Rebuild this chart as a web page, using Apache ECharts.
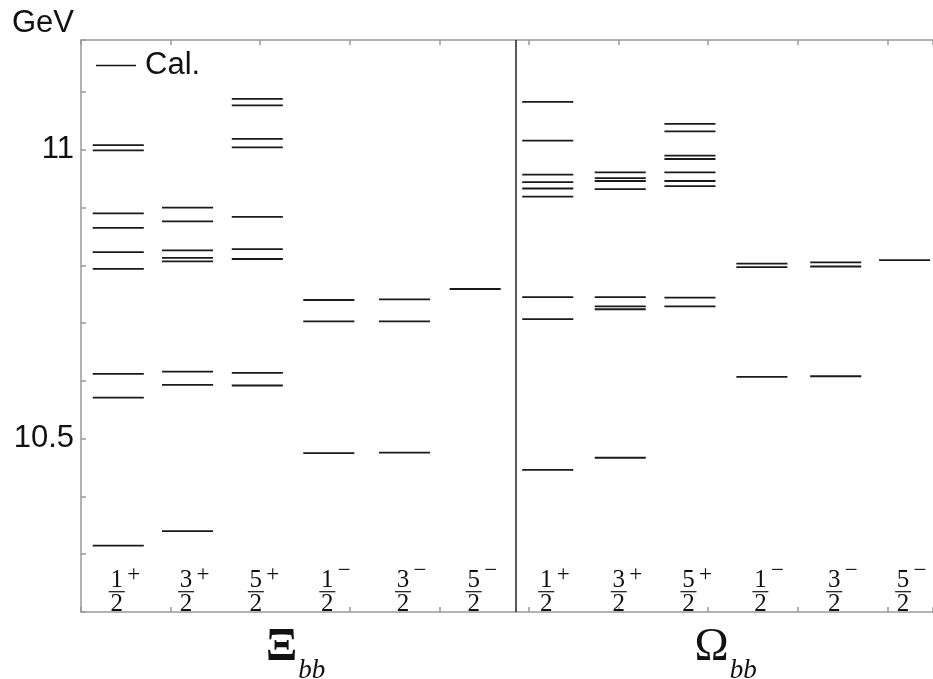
<!DOCTYPE html>
<html><head><meta charset="utf-8">
<script src="https://cdn.jsdelivr.net/npm/echarts@6/dist/echarts.min.js"></script>
<style>html,body{margin:0;padding:0;background:#fff}#c{width:933px;height:679px}</style>
</head><body><div id="c"></div>
<script>
// ---- data ----
const groups = ['Ξ', 'Ω'];
const groupSub = 'bb';
const spinNum = ['1', '3', '5', '1', '3', '5', '1', '3', '5', '1', '3', '5'];
const spinDen = ['2', '2', '2', '2', '2', '2', '2', '2', '2', '2', '2', '2'];
const parity  = ['+', '+', '+', '−', '−', '−', '+', '+', '+', '−', '−', '−'];
const columnGroup = [0, 0, 0, 0, 0, 0, 1, 1, 1, 1, 1, 1];
const columnX = [0.416, 1.189, 1.968, 2.766, 3.611, 4.400, 5.210, 6.019, 6.797, 7.600, 8.424, 9.193];
const separatorX = 4.85;
const yTickLabels = [10.5, 11];
const seriesName = 'Cal.';

const xi_1h_p = [11.008, 10.999, 10.890, 10.865, 10.823, 10.794, 10.612, 10.571, 10.315];
const xi_3h_p = [10.900, 10.876, 10.826, 10.813, 10.807, 10.616, 10.593, 10.340];
const xi_5h_p = [11.088, 11.077, 11.019, 11.004, 10.884, 10.828, 10.811, 10.614, 10.592];
const xi_1h_m = [10.740, 10.703, 10.475];
const xi_3h_m = [10.741, 10.703, 10.476];
const xi_5h_m = [10.759];
const om_1h_p = [11.083, 11.016, 10.957, 10.944, 10.933, 10.919, 10.745, 10.707, 10.446];
const om_3h_p = [10.961, 10.951, 10.946, 10.932, 10.745, 10.729, 10.724, 10.467];
const om_5h_p = [11.045, 11.032, 10.990, 10.984, 10.961, 10.946, 10.937, 10.744, 10.729];
const om_1h_m = [10.803, 10.797, 10.607];
const om_3h_m = [10.805, 10.798, 10.608];
const om_5h_m = [10.809];

const levels = [xi_1h_p, xi_3h_p, xi_5h_p, xi_1h_m, xi_3h_m, xi_5h_m,
                om_1h_p, om_3h_p, om_5h_p, om_1h_m, om_3h_m, om_5h_m];

const Y_MIN = 10.2, Y_MAX = 11.19;
const X_MIN = 0, X_MAX = 9.51;

// ---- build ----
const HALF = 0.285;
const levelData = [];
levels.forEach((arr, c) => arr.forEach(v => levelData.push([columnX[c], v])));
const labelData = columnX.map((x, c) => [x, Y_MIN, c]);
const groupData = groups.map((g, gi) => {
  const xs = columnX.filter((x, c) => columnGroup[c] === gi);
  return [xs.reduce((a, b) => a + b, 0) / xs.length, Y_MIN, gi];
});

const serif = '"Liberation Serif", "DejaVu Serif", serif';
const sans = '"Liberation Sans", Arial, sans-serif';
const ink = '#111';
const frame = '#999';

const chart = echarts.init(document.getElementById('c'), null, {renderer: 'canvas'});
chart.setOption({
  animation: false,
  backgroundColor: '#fff',
  grid: {left: 81, right: 0, top: 40, bottom: 67, containLabel: false},
  legend: {
    data: [{name: seriesName, icon: 'rect'}],
    left: 96, top: 50, padding: 0,
    itemWidth: 40, itemHeight: 1.6,
    textStyle: {fontSize: 31, color: ink, fontFamily: sans, padding: [0, 0, 0, 4]},
    selectedMode: false
  },
  xAxis: [
    {type: 'value', min: X_MIN, max: X_MAX, interval: 1, position: 'bottom',
     axisLine: {show: true, lineStyle: {color: frame, width: 1.5}},
     axisTick: {show: true, inside: true, length: 5, lineStyle: {color: frame, width: 1.5}},
     axisLabel: {show: false}, splitLine: {show: false}},
    {type: 'value', min: X_MIN, max: X_MAX, interval: 1, position: 'top',
     axisLine: {show: true, lineStyle: {color: frame, width: 1.5}},
     axisTick: {show: true, inside: true, length: 5, lineStyle: {color: frame, width: 1.5}},
     axisLabel: {show: false}, splitLine: {show: false}}
  ],
  yAxis: {
    type: 'value', min: Y_MIN, max: Y_MAX, interval: 0.1,
    name: 'GeV', nameLocation: 'end', nameGap: 17,
    nameTextStyle: {fontSize: 31, color: ink, fontFamily: sans, align: 'right', verticalAlign: 'middle', padding: [0, 7, 0, 0]},
    axisLine: {show: true, lineStyle: {color: frame, width: 1.5}},
    axisTick: {show: true, inside: true, length: 5, lineStyle: {color: frame, width: 1.5}},
    axisLabel: {
      fontSize: 31, color: ink, fontFamily: sans, margin: 7,
      formatter: v => (yTickLabels.some(t => Math.abs(t - v) < 1e-6) ? String(+v.toFixed(1)) : '')
    },
    splitLine: {show: false}
  },
  series: [
    {
      name: seriesName, type: 'custom', xAxisIndex: 0,
      itemStyle: {color: ink},
      data: levelData,
      encode: {x: 0, y: 1},
      renderItem: (params, api) => {
        const cx = api.value(0), v = api.value(1);
        const p1 = api.coord([cx - HALF, v]), p2 = api.coord([cx + HALF, v]);
        return {type: 'line', shape: {x1: p1[0], y1: p1[1], x2: p2[0], y2: p2[1]},
                style: {stroke: '#1a1a1a', lineWidth: 1.8}};
      },
      markLine: {
        silent: true, symbol: ['none', 'none'], label: {show: false},
        lineStyle: {color: '#222', width: 1.5, type: 'solid'},
        data: [{xAxis: separatorX}]
      }
    },
    {
      name: 'jp', type: 'custom', silent: true, xAxisIndex: 0,
      data: labelData, encode: {x: 0, y: 1},
      renderItem: (params, api) => {
        const c = api.value(2);
        const p = api.coord([api.value(0), api.value(1)]);
        const cx = p[0] - 1.5, by = p[1];
        const sign = parity[c];
        return {type: 'group', children: [
          {type: 'text', x: cx, y: by - 31.5, style: {text: spinNum[c], fill: ink, font: '25px ' + serif, align: 'center', verticalAlign: 'middle'}},
          {type: 'line', shape: {x1: cx - 8, y1: by - 20.3, x2: cx + 8, y2: by - 20.3}, style: {stroke: ink, lineWidth: 1.2}},
          {type: 'text', x: cx, y: by - 7.5, style: {text: spinDen[c], fill: ink, font: '25px ' + serif, align: 'center', verticalAlign: 'middle'}},
          {type: 'text', x: cx + 17, y: by - (sign === '+' ? 37 : 41), style: {text: sign, fill: ink, font: '23px ' + serif, align: 'center', verticalAlign: 'middle'}}
        ]};
      }
    },
    {
      name: 'groups', type: 'custom', silent: true, xAxisIndex: 0,
      data: groupData, encode: {x: 0, y: 1},
      renderItem: (params, api) => {
        const g = api.value(2);
        const p = api.coord([api.value(0), api.value(1)]);
        return {type: 'group', children: [
          {type: 'text', x: p[0] + 2, y: p[1] + 36, style: {text: groups[g], fill: ink, font: (g === 0 ? 'bold ' : '') + '46px ' + serif, align: 'right', verticalAlign: 'middle'}},
          {type: 'text', x: p[0] + 3, y: p[1] + 59, style: {text: groupSub, fill: ink, font: 'italic 27px ' + serif, align: 'left', verticalAlign: 'middle'}}
        ]};
      }
    }
  ]
});
</script>
</body></html>
